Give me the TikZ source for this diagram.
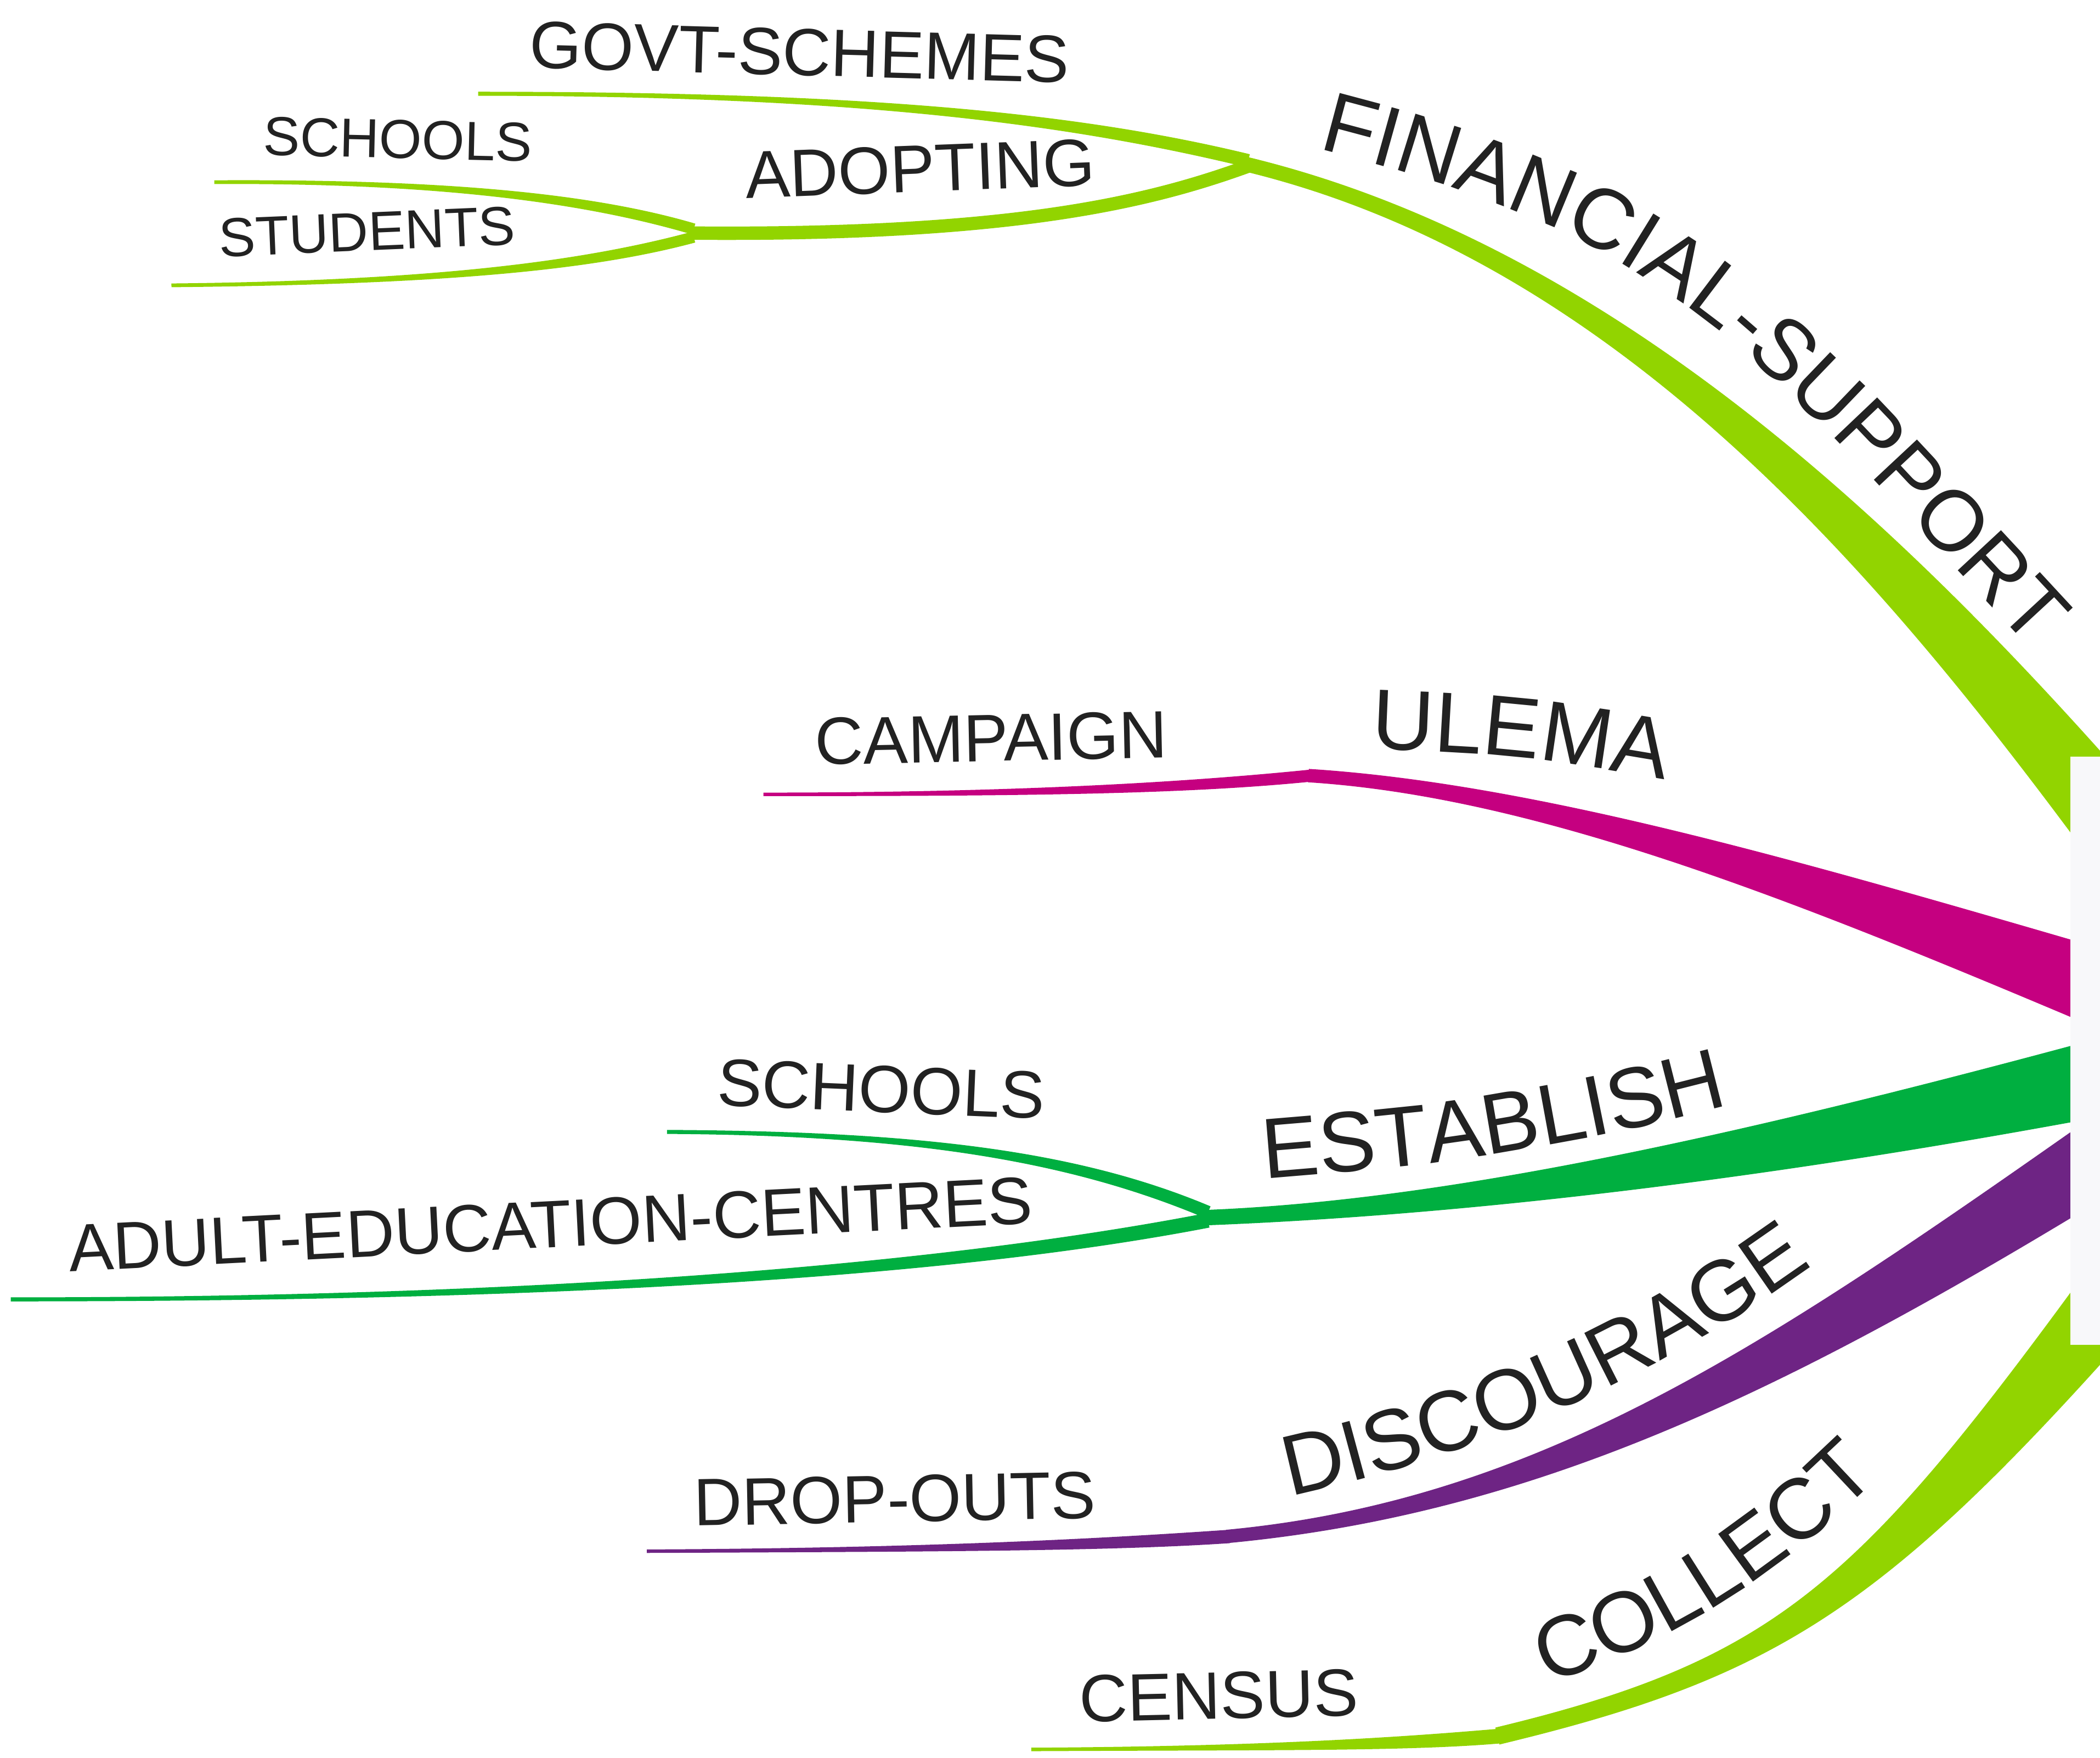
\documentclass[tikz,border=0pt]{standalone}
\usepackage{fontspec}
\setmainfont{Liberation Sans}
\usetikzlibrary{calc,decorations.text}
\definecolor{lime}{RGB}{146,212,0}
\definecolor{mag}{RGB}{197,0,128}
\definecolor{grn}{RGB}{0,175,64}
\definecolor{pur}{RGB}{110,36,132}
\definecolor{txt}{RGB}{34,34,34}
\definecolor{rootfill}{RGB}{248,248,250}
% tapered band along a cubic: #1 colour, #2..#5 P0..P3, #6 half width at P0/P1, #7 at P2, #8 at P3
\newcommand\mmband[8]{%
  \fill[#1] ($(#2)!#6!90:(#3)$) .. controls ($(#3)!#6!-90:(#2)$) and ($(#4)!#7!90:(#5)$) .. ($(#5)!#8!-90:(#4)$)
   -- ($(#5)!#8!90:(#4)$) .. controls ($(#4)!#7!-90:(#5)$) and ($(#3)!#6!90:(#2)$) .. ($(#2)!#6!-90:(#3)$) -- cycle;}
\tikzset{
  lab3/.style={text=txt, inner sep=0pt, font=\fontsize{41}{41}\selectfont},
  lab2/.style={text=txt, inner sep=0pt, font=\fontsize{50}{50}\selectfont},
  rootbox/.style={fill=rootfill, draw=none, inner sep=0pt, anchor=north west},
  mainlab/.style={decorate, decoration={text along path, text align=left, text={|\fontsize{64}{64}\selectfont\color{txt}|#1}}}
}
\begin{document}
\begin{tikzpicture}[x=1pt,y=-1pt]
\useasboundingbox (0,0) rectangle (1568,1312);
\clip (0,0) rectangle (1568,1312);
% ---------- coordinates ----------
% financial support
\coordinate (fJ) at (930,122.5); \coordinate (fA) at (1210,190); \coordinate (fB) at (1420,420); \coordinate (fR) at (1575,612);
\coordinate (gT) at (357,70); \coordinate (gA) at (640,70); \coordinate (gB) at (800,88); \coordinate (gJ) at (932,120);
\coordinate (aJ) at (517,174); \coordinate (aA) at (760,176); \coordinate (aB) at (860,150); \coordinate (aE) at (932,124);
\coordinate (sT) at (160,136); \coordinate (sA) at (330,135); \coordinate (sB) at (440,148); \coordinate (sJ) at (518,171);
\coordinate (tT) at (128,213); \coordinate (tA) at (330,211); \coordinate (tB) at (440,198); \coordinate (tJ) at (518,177);
% ulema
\coordinate (uJ) at (977,579); \coordinate (uA) at (1150,590); \coordinate (uB) at (1350,660); \coordinate (uR) at (1575,740);
\coordinate (cT) at (570,593); \coordinate (cA) at (750,593); \coordinate (cB) at (880,589); \coordinate (cJ) at (979,579);
% establish
\coordinate (eJ) at (900,909); \coordinate (eA) at (1080,902); \coordinate (eB) at (1300,866); \coordinate (eR) at (1575,803);
\coordinate (lT) at (498,845); \coordinate (lA) at (680,846); \coordinate (lB) at (800,862); \coordinate (lJ) at (902,905);
\coordinate (dT) at (8,970); \coordinate (dA) at (400,970); \coordinate (dB) at (700,950); \coordinate (dJ) at (902,911);
% discourage
\coordinate (pJ) at (916,1147); \coordinate (pA) at (1150,1125); \coordinate (pB) at (1330,1020); \coordinate (pR) at (1575,859);
\coordinate (oT) at (483,1158); \coordinate (oA) at (700,1157); \coordinate (oB) at (830,1153); \coordinate (oJ) at (918,1147);
% collect
\coordinate (kJ) at (1118,1296); \coordinate (kA) at (1330,1245); \coordinate (kB) at (1400,1190); \coordinate (kR) at (1590,952);
\coordinate (nT) at (770,1306); \coordinate (nA) at (950,1305); \coordinate (nB) at (1050,1302); \coordinate (nJ) at (1120,1296);
% ---------- sub-branches ----------
\mmband{lime}{gT}{gA}{gB}{gJ}{1.5pt}{5pt}{5pt}
\mmband{lime}{aJ}{aA}{aB}{aE}{5pt}{5pt}{5pt}
\mmband{lime}{sT}{sA}{sB}{sJ}{1.4pt}{4.2pt}{4.2pt}
\mmband{lime}{tT}{tA}{tB}{tJ}{1.4pt}{4.2pt}{4.2pt}
\mmband{mag}{cT}{cA}{cB}{cJ}{1.3pt}{4.5pt}{4.5pt}
\mmband{grn}{lT}{lA}{lB}{lJ}{1.5pt}{4.8pt}{4.8pt}
\mmband{grn}{dT}{dA}{dB}{dJ}{1.5pt}{5.5pt}{5.5pt}
\mmband{pur}{oT}{oA}{oB}{oJ}{1.3pt}{5pt}{5pt}
\mmband{lime}{nT}{nA}{nB}{nJ}{1.3pt}{5.5pt}{5.5pt}
% ---------- main branches ----------
\mmband{lime}{fJ}{fA}{fB}{fR}{5.5pt}{19pt}{29pt}
\mmband{mag}{uJ}{uA}{uB}{uR}{5pt}{15pt}{29pt}
\mmband{grn}{eJ}{eA}{eB}{eR}{5.75pt}{18pt}{29pt}
\mmband{pur}{pJ}{pA}{pB}{pR}{5pt}{19pt}{28pt}
\mmband{lime}{kJ}{kA}{kB}{kR}{6.5pt}{14pt}{28pt}
% ---------- central topic ----------
\node[rootbox, minimum width=60pt, minimum height=439.2pt] (root) at (1545.6,564.5) {};
% ---------- labels ----------
\node[lab3, rotate=-1.3] (schoolsA) at (297,104) {SCHOOLS};
\node[lab3, rotate=2.4] (students) at (274,173) {STUDENTS};
\node[lab2, rotate=-1.6] (govt) at (597,39) {GOVT-SCHEMES};
\node[lab2, rotate=2.2] (adopting) at (687,126) {ADOPTING};
\node[lab2, rotate=1.2] (campaign) at (740,551) {CAMPAIGN};
\node[lab2, rotate=-2.4] (schoolsB) at (658,813) {SCHOOLS};
\node[lab2, rotate=2.9] (adult) at (411,914) {ADULT-EDUCATION-CENTRES};
\node[lab2, rotate=1.1] (dropouts) at (668,1119) {DROP-OUTS};
\node[lab2, rotate=1.3] (census) at (910,1266) {CENSUS};
\begin{scope}[color=txt]
\path[mainlab={FINANCIAL-SUPPORT}] plot[smooth, tension=0.6] coordinates {(984,111) (1069,135) (1156,168) (1208,195) (1280,244) (1352,310) (1397,356) (1463,427) (1501,468) (1560,532) (1620,600)};
\path[mainlab={ULEMA}] plot[smooth, tension=0.6] coordinates {(1024,559) (1130,565) (1238,581) (1300,594) (1400,620)};
\path[mainlab={ESTABLISH}] plot[smooth, tension=0.6] coordinates {(944,880) (1064,869) (1154,855) (1220,842) (1286,826) (1350,808) (1450,775)};
\path[mainlab={DISCOURAGE}] (963,1117) .. controls (1080,1092) and (1220,1040) .. (1346,950) -- (1440,880);
\path[mainlab={COLLECT}] (1155,1257) .. controls (1220,1235) and (1300,1200) .. (1390,1115) -- (1460,1040);
\end{scope}
\end{tikzpicture}
\end{document}
